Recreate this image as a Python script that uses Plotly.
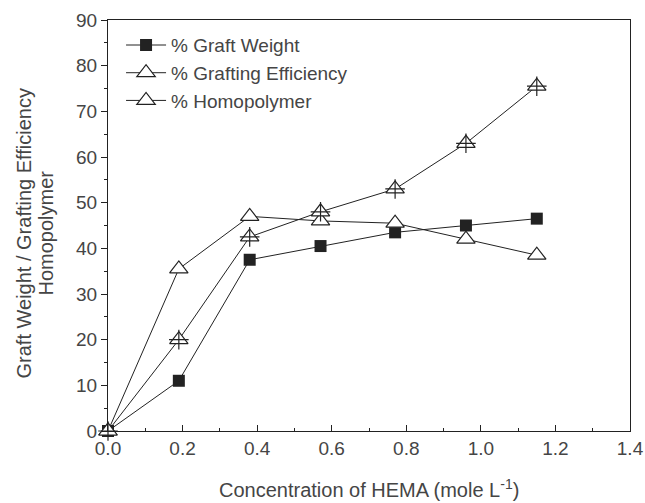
import plotly.graph_objects as go

# HEMA concentration (mole/L)
conc = [0.0, 0.19, 0.38, 0.57, 0.77, 0.96, 1.15]
graft_weight = [0.0, 11.0, 37.5, 40.5, 43.5, 45.0, 46.5]
grafting_eff = [0.0, 35.5, 47.0, 46.0, 45.5, 42.0, 38.5]
homopolymer = [0.0, 20.0, 42.5, 48.0, 53.0, 63.0, 75.5]

x_ticks = [0.0, 0.2, 0.4, 0.6, 0.8, 1.0, 1.2, 1.4]
y_ticks = [0, 10, 20, 30, 40, 50, 60, 70, 80, 90]

x_title = "Concentration of HEMA (mole L<sup>-1</sup>)"
y_title_lines = ["Graft Weight / Grafting Efficiency", "Homopolymer"]

ink = "#222222"
txt = "#454545"
font = "Liberation Sans, Arial, sans-serif"

fig = go.Figure()

fig.add_trace(go.Scatter(
    x=conc, y=graft_weight, mode="lines+markers", name="% Graft Weight",
    line=dict(color=ink, width=1),
    marker=dict(symbol="square", size=12, color=ink),
    cliponaxis=False, legendgroup="gw",
))
fig.add_trace(go.Scatter(
    x=conc, y=grafting_eff, mode="lines+markers", name="% Grafting Efficiency",
    line=dict(color=ink, width=1),
    marker=dict(symbol="triangle-up", size=16, color="white",
                line=dict(color=ink, width=1.2)),
    cliponaxis=False, legendgroup="ge",
))
fig.add_trace(go.Scatter(
    x=conc, y=homopolymer, mode="lines+markers", name="% Homopolymer",
    line=dict(color=ink, width=1),
    marker=dict(symbol="triangle-up", size=16, color="white",
                line=dict(color=ink, width=1.2)),
    cliponaxis=False, legendgroup="homo",
))
# cross inside the homopolymer triangles
fig.add_trace(go.Scatter(
    x=conc, y=homopolymer, mode="markers", showlegend=False,
    marker=dict(symbol="cross-thin", size=14, color=ink,
                line=dict(color=ink, width=1.2)),
    cliponaxis=False, legendgroup="homo", hoverinfo="skip",
))

axis_common = dict(
    showgrid=False, zeroline=False, linecolor=ink, linewidth=1.2,
    tickcolor=ink, tickfont=dict(family=font, size=19, color=txt),
    automargin=False,
)

fig.update_layout(
    width=645, height=503,
    margin=dict(l=108, r=15, t=20, b=72),
    paper_bgcolor="white", plot_bgcolor="white",
    font=dict(family=font, color=txt),
    showlegend=True,
    legend=dict(
        x=0.025, y=0.985, xanchor="left", yanchor="top",
        bgcolor="rgba(0,0,0,0)", font=dict(family=font, size=19, color=txt),
        traceorder="grouped", tracegroupgap=0, itemwidth=40,
    ),
    xaxis=dict(
        **axis_common, range=[0, 1.4], tickvals=x_ticks,
        ticktext=[f"{v:.1f}" for v in x_ticks],
        ticks="inside", ticklen=6, mirror=True,
        minor=dict(dtick=0.1, ticks="inside", ticklen=3, tickcolor=ink),
    ),
    yaxis=dict(
        **axis_common, range=[0, 90], tickvals=y_ticks,
        ticks="outside", ticklen=6, mirror=True,
        minor=dict(dtick=5, ticks="outside", ticklen=3, tickcolor=ink),
    ),
    yaxis2=dict(
        overlaying="y", side="right", range=[0, 90], tickvals=y_ticks,
        showticklabels=False, showgrid=False, zeroline=False, showline=False,
        ticks="inside", ticklen=6, tickcolor=ink, automargin=False,
        minor=dict(dtick=5, ticks="inside", ticklen=3, tickcolor=ink),
    ),
)

# axis titles
fig.add_annotation(
    text=x_title, xref="paper", yref="paper", x=0.5, y=0, yshift=-57,
    xanchor="center", yanchor="middle", showarrow=False,
    font=dict(family=font, size=20, color=txt),
)
for line_text, shift in zip(y_title_lines, [-85, -63]):
    fig.add_annotation(
        text=line_text, xref="paper", yref="paper", x=0, y=0.5,
        xshift=shift, yshift=-8,
        xanchor="center", yanchor="middle", textangle=-90, showarrow=False,
        font=dict(family=font, size=20, color=txt),
    )

fig.write_html("out.html")
